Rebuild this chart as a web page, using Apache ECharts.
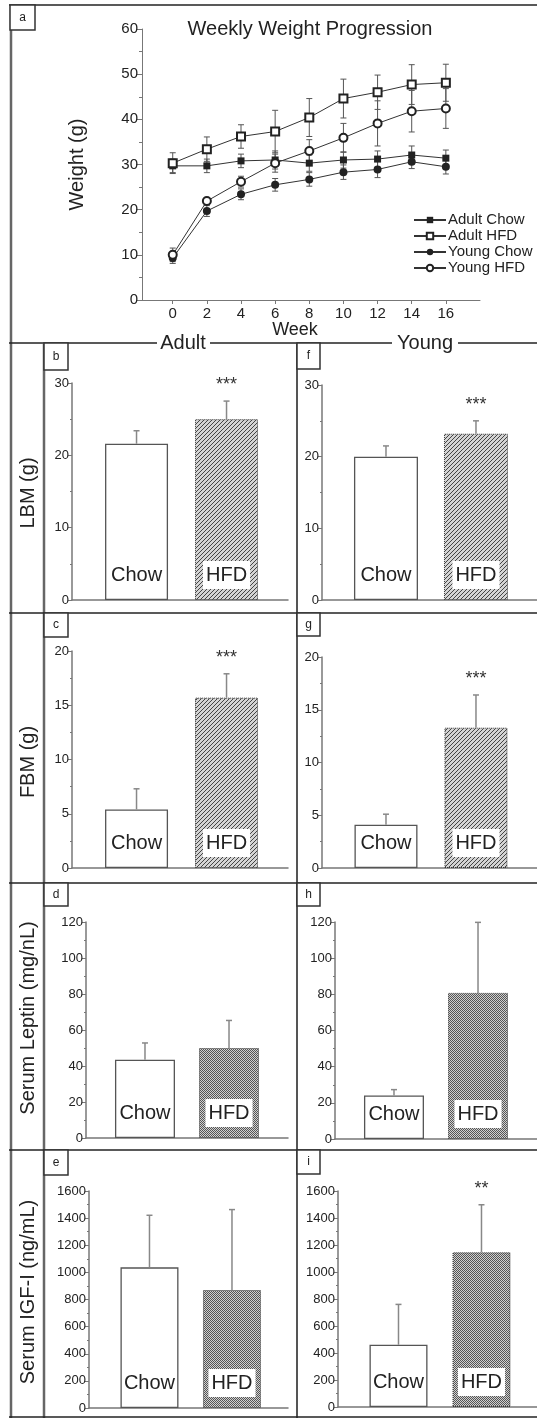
<!DOCTYPE html>
<html><head><meta charset="utf-8">
<script src="https://cdn.jsdelivr.net/npm/echarts@6/dist/echarts.min.js"></script>
<style>html,body{margin:0;padding:0;background:#fff}#c{width:537px;height:1419px}</style>
</head><body><div id="c"></div>
<script>
// ---------- data ----------
const weeks = [0, 2, 4, 6, 8, 10, 12, 14, 16];
const seriesNames = ['Adult Chow', 'Adult HFD', 'Young Chow', 'Young HFD'];
const adultChow    = [29.7, 29.7, 30.8, 31.0, 30.3, 31.0, 31.2, 32.1, 31.4];
const adultChowErr = [1.5, 1.5, 1.5, 2.0, 1.8, 1.8, 1.8, 2.0, 1.8];
const adultHFD     = [30.3, 33.4, 36.2, 37.3, 40.4, 44.6, 46.0, 47.7, 48.1];
const adultHFDErr  = [2.3, 2.7, 2.6, 4.7, 4.2, 4.3, 3.8, 4.4, 4.1];
const youngChow    = [9.3, 19.7, 23.4, 25.5, 26.7, 28.3, 28.9, 30.6, 29.5];
const youngChowErr = [1.2, 1.2, 1.2, 1.4, 1.5, 1.6, 1.8, 1.5, 1.6];
const youngHFD     = [10.0, 21.9, 26.2, 30.3, 33.0, 35.9, 39.1, 41.8, 42.4];
const youngHFDErr  = [1.5, 0.8, 1.2, 2.0, 2.5, 3.2, 5.0, 4.6, 4.4];

const categories = ['Chow', 'HFD'];
const lbmAdult = [21.6, 25.0],   lbmAdultErr = [1.8, 2.5],   lbmAdultSig = ['', '***'];
const lbmYoung = [20.0, 23.2],   lbmYoungErr = [1.5, 1.8],   lbmYoungSig = ['', '***'];
const fbmAdult = [5.4, 15.7],    fbmAdultErr = [1.9, 2.2],   fbmAdultSig = ['', '***'];
const fbmYoung = [4.1, 13.3],    fbmYoungErr = [1.0, 3.1],   fbmYoungSig = ['', '***'];
const leptinAdult = [43.5, 50.0], leptinAdultErr = [9.3, 15.3], leptinAdultSig = ['', ''];
const leptinYoung = [24.1, 80.8], leptinYoungErr = [3.2, 39.0], leptinYoungSig = ['', ''];
const igfAdult = [1037, 870],    igfAdultErr = [384, 593],   igfAdultSig = ['', ''];
const igfYoung = [461, 1146],    igfYoungErr = [299, 352],   igfYoungSig = ['', '**'];

const yTitles = ['LBM (g)', 'FBM (g)', 'Serum Leptin (mg/nL)', 'Serum IGF-I (ng/mL)'];
const panelLetters = ['a', 'b', 'c', 'd', 'e', 'f', 'g', 'h', 'i'];

// ---------- styles ----------
const FF = '"Liberation Sans", Arial, Helvetica, sans-serif';
const TXT = '#222';
const AX = '#777';
const plain = v => String(v);

function makePattern(kind) {
  const c = document.createElement('canvas');
  c.width = 4; c.height = 4;
  const g = c.getContext('2d');
  if (kind === 'diag') {
    g.fillStyle = '#d4d4d4'; g.fillRect(0, 0, 4, 4);
    g.strokeStyle = '#444'; g.lineWidth = 1;
    g.beginPath();
    g.moveTo(0, 4); g.lineTo(4, 0);
    g.moveTo(-1, 1); g.lineTo(1, -1);
    g.moveTo(3, 5); g.lineTo(5, 3);
    g.stroke();
  } else {
    g.fillStyle = '#d0d0d0'; g.fillRect(0, 0, 4, 4);
    g.fillStyle = '#555';
    g.fillRect(0, 0, 1, 1); g.fillRect(2, 0, 1, 1);
    g.fillRect(1, 1, 1, 1); g.fillRect(3, 1, 1, 1);
    g.fillRect(0, 2, 1, 1); g.fillRect(2, 2, 1, 1);
    g.fillRect(1, 3, 1, 1); g.fillRect(3, 3, 1, 1);
  }
  return { image: c, repeat: 'repeat' };
}

const panels = [
  { vals: lbmAdult, errs: lbmAdultErr, sig: lbmAdultSig, max: 30, interval: 10, grid: { left: 72, top: 383, width: 216, height: 217 }, xMin: -0.717, xMax: 1.683, barW: 63, pat: 'diag' },
  { vals: fbmAdult, errs: fbmAdultErr, sig: fbmAdultSig, max: 20, interval: 5, grid: { left: 72, top: 651, width: 216, height: 217 }, xMin: -0.717, xMax: 1.683, barW: 63, pat: 'diag' },
  { vals: leptinAdult, errs: leptinAdultErr, sig: leptinAdultSig, max: 120, interval: 20, grid: { left: 86, top: 922, width: 202, height: 216 }, xMin: -0.702, xMax: 1.702, barW: 60, pat: 'check' },
  { vals: igfAdult, errs: igfAdultErr, sig: igfAdultSig, max: 1600, interval: 200, grid: { left: 89, top: 1191, width: 199, height: 217 }, xMin: -0.733, xMax: 1.679, barW: 58, pat: 'check' },
  { vals: lbmYoung, errs: lbmYoungErr, sig: lbmYoungSig, max: 30, interval: 10, grid: { left: 322, top: 385, width: 215, height: 215 }, xMin: -0.711, xMax: 1.678, barW: 64, pat: 'diag' },
  { vals: fbmYoung, errs: fbmYoungErr, sig: fbmYoungSig, max: 20, interval: 5, grid: { left: 322, top: 657, width: 215, height: 211 }, xMin: -0.711, xMax: 1.678, barW: 63, pat: 'diag' },
  { vals: leptinYoung, errs: leptinYoungErr, sig: leptinYoungSig, max: 120, interval: 20, grid: { left: 335, top: 922, width: 202, height: 217 }, xMin: -0.702, xMax: 1.702, barW: 60, pat: 'check' },
  { vals: igfYoung, errs: igfYoungErr, sig: igfYoungSig, max: 1600, interval: 200, grid: { left: 338, top: 1191, width: 199, height: 216 }, xMin: -0.729, xMax: 1.669, barW: 58, pat: 'check' }
];

const grids = [], xAxes = [], yAxes = [], series = [];

// ---------- top line chart ----------
grids.push({ left: 142, top: 29, width: 338, height: 271, containLabel: false, outerBoundsMode: 'none' });
xAxes.push({
  gridIndex: 0, type: 'value', min: -1.8, max: 18,
  axisLine: { onZero: false, lineStyle: { color: AX, width: 1 } },
  axisTick: { show: true, customValues: weeks, length: 4, lineStyle: { color: AX } },
  axisLabel: { customValues: weeks, fontSize: 15, color: TXT, fontFamily: FF, margin: 6, formatter: plain },
  splitLine: { show: false }
});
yAxes.push({
  gridIndex: 0, type: 'value', min: 0, max: 60, interval: 10,
  name: 'Weight (g)', nameLocation: 'middle', nameGap: 55,
  nameTextStyle: { fontSize: 20, color: TXT, fontFamily: FF },
  axisLine: { show: true, onZero: false, lineStyle: { color: AX, width: 1 } },
  axisTick: { show: true, length: 6, lineStyle: { color: AX } },
  minorTick: { show: true, splitNumber: 2, length: 3, lineStyle: { color: AX } },
  axisLabel: { fontSize: 15, color: TXT, fontFamily: FF, margin: 4, formatter: plain },
  splitLine: { show: false }, minorSplitLine: { show: false }
});

const lineDefs = [
  { name: seriesNames[0], vals: adultChow, errs: adultChowErr, symbol: 'rect', size: 7 },
  { name: seriesNames[1], vals: adultHFD, errs: adultHFDErr, symbol: 'emptyRect', size: 8 },
  { name: seriesNames[2], vals: youngChow, errs: youngChowErr, symbol: 'circle', size: 8 },
  { name: seriesNames[3], vals: youngHFD, errs: youngHFDErr, symbol: 'emptyCircle', size: 8 }
];
lineDefs.forEach(d => {
  series.push({
    type: 'custom', xAxisIndex: 0, yAxisIndex: 0, z: 2, silent: true,
    data: weeks.map((w, k) => [w, d.vals[k], d.errs[k]]),
    encode: { x: 0, y: 1 },
    renderItem: (params, api) => {
      const x = api.value(0), v = api.value(1), e = api.value(2);
      const lo = api.coord([x, v - e]), hi = api.coord([x, v + e]);
      const st = { stroke: '#555', lineWidth: 1 };
      return { type: 'group', children: [
        { type: 'line', shape: { x1: lo[0], y1: lo[1], x2: hi[0], y2: hi[1] }, style: st },
        { type: 'line', shape: { x1: hi[0] - 3, y1: hi[1], x2: hi[0] + 3, y2: hi[1] }, style: st },
        { type: 'line', shape: { x1: lo[0] - 3, y1: lo[1], x2: lo[0] + 3, y2: lo[1] }, style: st }
      ] };
    }
  });
});
lineDefs.forEach(d => {
  series.push({
    type: 'line', name: d.name, xAxisIndex: 0, yAxisIndex: 0, z: 3,
    data: weeks.map((w, k) => [w, d.vals[k]]),
    symbol: d.symbol, symbolSize: d.size, showAllSymbol: true,
    lineStyle: { color: '#333', width: 1 },
    itemStyle: { color: '#222', borderWidth: 1.2 },
    emphasis: { disabled: true }
  });
});

// ---------- bar panels ----------
panels.forEach((p, i) => {
  const gi = i + 1;
  grids.push(Object.assign({ containLabel: false, outerBoundsMode: 'none' }, p.grid));
  xAxes.push({
    gridIndex: gi, type: 'value', min: p.xMin, max: p.xMax,
    axisLine: { show: true, onZero: false, lineStyle: { color: AX, width: 1.5 } },
    axisTick: { show: false }, axisLabel: { show: false }, splitLine: { show: false }
  });
  yAxes.push({
    gridIndex: gi, type: 'value', min: 0, max: p.max, interval: p.interval,
    axisLine: { show: true, onZero: false, lineStyle: { color: AX, width: 1.5 } },
    axisTick: { show: true, length: 4, lineStyle: { color: AX } },
    minorTick: { show: true, splitNumber: 2, length: 2, lineStyle: { color: AX } },
    axisLabel: { fontSize: 13, color: TXT, fontFamily: FF, margin: 3, formatter: plain },
    splitLine: { show: false }, minorSplitLine: { show: false }
  });
  const pat = makePattern(p.pat);
  series.push({
    type: 'bar', xAxisIndex: gi, yAxisIndex: gi, barWidth: p.barW, z: 2,
    emphasis: { disabled: true },
    data: p.vals.map((v, k) => ({
      value: [k, v],
      itemStyle: k === 0
        ? { color: '#fff', borderColor: '#555', borderWidth: 1.3 }
        : { color: pat, borderColor: '#333', borderWidth: 1, borderType: 'dotted' },
      label: k === 0 ? {} : { backgroundColor: '#fff' }
    })),
    label: {
      show: true, position: 'insideBottom', distance: 11,
      formatter: q => categories[q.dataIndex],
      fontSize: 20, fontFamily: FF, color: TXT, padding: [3, 3], lineHeight: 22
    }
  });
  series.push({
    type: 'custom', xAxisIndex: gi, yAxisIndex: gi, z: 3, silent: true,
    data: p.vals.map((v, k) => [k, v, p.errs[k]]),
    encode: { x: 0, y: 1 },
    renderItem: (params, api) => {
      const x = api.value(0), v = api.value(1), e = api.value(2);
      const b = api.coord([x, v]), t = api.coord([x, v + e]);
      const st = { stroke: '#888', lineWidth: 1.5 };
      return { type: 'group', children: [
        { type: 'line', shape: { x1: b[0], y1: b[1], x2: t[0], y2: t[1] }, style: st },
        { type: 'line', shape: { x1: t[0] - 3, y1: t[1], x2: t[0] + 3, y2: t[1] }, style: st },
        { type: 'text', style: { text: p.sig[params.dataIndex], x: t[0], y: t[1] - 16,
          textAlign: 'center', textVerticalAlign: 'middle', font: '18px ' + FF, fill: '#333' } }
      ] };
    }
  });
});

// ---------- frame / decorations ----------
const G = [];
function hline(x1, x2, y, c, w) { G.push({ type: 'line', shape: { x1, y1: y, x2, y2: y }, style: { stroke: c, lineWidth: w }, silent: true }); }
function vline(x, y1, y2, c, w) { G.push({ type: 'line', shape: { x1: x, y1, x2: x, y2 }, style: { stroke: c, lineWidth: w }, silent: true }); }
function txt(s, x, y, size, rot) {
  G.push({ type: 'text', x, y, rotation: rot || 0, silent: true,
    style: { text: s, x: 0, y: 0, textAlign: 'center', textVerticalAlign: 'middle', font: size + 'px ' + FF, fill: TXT } });
}
function box(letter, x, y, w, h) {
  G.push({ type: 'rect', shape: { x, y, width: w, height: h }, style: { fill: '#fff', stroke: '#333', lineWidth: 1.5 }, silent: true });
  G.push({ type: 'text', x: x + w / 2, y: y + h / 2, silent: true,
    style: { text: letter, x: 0, y: 0, textAlign: 'center', textVerticalAlign: 'middle', font: '12px ' + FF, fill: TXT } });
}
hline(9, 537, 5, '#222', 1.5);
vline(11, 5, 1418, '#666', 2.5);
hline(9, 157, 343, '#222', 1.5);
hline(210, 392, 343, '#222', 1.5);
hline(458, 537, 343, '#222', 1.5);
vline(44, 343, 1418, '#666', 2.5);
vline(297, 343, 1418, '#555', 2);
hline(9, 537, 613, '#222', 1.5);
hline(9, 537, 883, '#222', 1.5);
hline(9, 537, 1150, '#222', 1.5);
hline(9, 537, 1417, '#222', 1.5);

box(panelLetters[0], 10, 5, 25, 25);
box(panelLetters[1], 44, 343, 24, 27);
box(panelLetters[2], 44, 613, 24, 24);
box(panelLetters[3], 44, 883, 24, 23);
box(panelLetters[4], 44, 1150, 24, 25);
box(panelLetters[5], 297, 343, 23, 26);
box(panelLetters[6], 297, 613, 23, 23);
box(panelLetters[7], 297, 883, 23, 23);
box(panelLetters[8], 297, 1150, 23, 24);

txt('Weekly Weight Progression', 310, 29, 20);
txt('Week', 295, 330, 18);
txt('Adult', 183, 343, 20);
txt('Young', 425, 343, 20);
txt(yTitles[0], 28, 493, 20, Math.PI / 2);
txt(yTitles[1], 28, 762, 20, Math.PI / 2);
txt(yTitles[2], 28, 1018, 20, Math.PI / 2);
txt(yTitles[3], 28, 1292, 20, Math.PI / 2);

const chart = echarts.init(document.getElementById('c'), null, { renderer: 'canvas' });
chart.setOption({
  animation: false,
  backgroundColor: '#fff',
  grid: grids, xAxis: xAxes, yAxis: yAxes, series,
  legend: {
    data: seriesNames, orient: 'vertical', left: 408, top: 207,
    itemWidth: 32, itemHeight: 8, itemGap: 0, selectedMode: false,
    textStyle: { fontSize: 15, color: TXT, fontFamily: FF, lineHeight: 16, padding: [0, 0, 0, -3] }
  },
  graphic: { elements: G }
});
</script>
</body></html>
